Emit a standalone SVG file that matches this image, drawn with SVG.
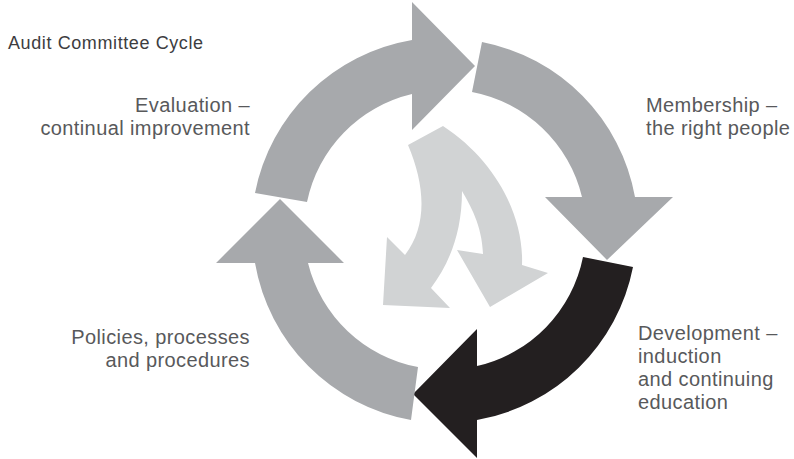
<svg xmlns="http://www.w3.org/2000/svg" width="794" height="459" viewBox="0 0 794 459">
<style>
.ring{fill:#a7a9ac}
.dark{fill:#231f20}
.light{fill:#d1d3d4}
.title{font-family:"Liberation Sans",Arial,sans-serif;font-size:18px;fill:#3d3d3f;letter-spacing:0.6px}
.lbl{font-family:"Liberation Sans",Arial,sans-serif;font-size:20px;fill:#58595b;letter-spacing:0.4px}
</style>
<rect width="794" height="459" fill="#ffffff"/>
<text class="title" x="8" y="49">Audit Committee Cycle</text>
<g id="connectors">
<path id="arrow-evaluation" class="ring" d="M255,193 A193,193 0 0 1 412,40 L412,2 L475,66 L412,130 L412,94 A140,140 0 0 0 307,202 Z"/>
<path id="arrow-membership" class="ring" d="M482,42 A193,193 0 0 1 635,197 L673,197 L607,260 L545,197 L582,197 A140,140 0 0 0 472,92 Z"/>
<path id="arrow-development" class="dark" d="M633,267 A193,193 0 0 1 477,420 L477,458 L413,394 L477,329 L477,366 A140,140 0 0 0 583,257 Z"/>
<path id="arrow-policies" class="ring" d="M411,420 A193,193 0 0 1 255,263 L216,263 L280,199 L344,263 L308,263 A140,140 0 0 0 418,367 Z"/>
<path id="arrow-inner" class="light" d="M408,145 L443,126 C495,160 524,215 522,265 L548,273 L490,307 L457,250 L483,254 C482,225 470,205 462,191 C462,235 448,265 431,288 L450,308 L383,305 L387,237 L405,255 C428,225 425,185 408,145 Z"/>
</g>
<g id="node-evaluation">
<text class="lbl" x="250" y="112" text-anchor="end">Evaluation –</text>
<text class="lbl" x="250" y="135" text-anchor="end">continual improvement</text>
</g>
<g id="node-membership">
<text class="lbl" x="646" y="112">Membership –</text>
<text class="lbl" x="646" y="135">the right people</text>
</g>
<g id="node-development">
<text class="lbl" x="638" y="340">Development –</text>
<text class="lbl" x="638" y="363">induction</text>
<text class="lbl" x="638" y="386">and continuing</text>
<text class="lbl" x="638" y="409">education</text>
</g>
<g id="node-policies">
<text class="lbl" x="250" y="344" text-anchor="end">Policies, processes</text>
<text class="lbl" x="250" y="367" text-anchor="end">and procedures</text>
</g>
</svg>
